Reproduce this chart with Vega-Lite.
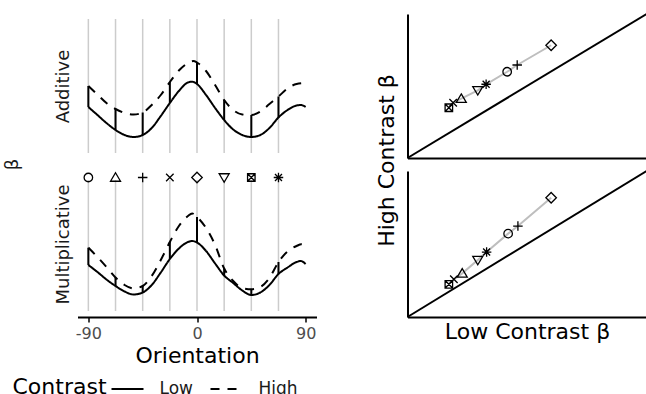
{
  "$schema": "https://vega.github.io/schema/vega-lite/v6.json",
  "padding": {"left": 2.5, "top": 10, "right": 0, "bottom": 0},
  "background": "white",
  "config": {
    "font": "DejaVu Sans",
    "view": {"stroke": null},
    "axis": {"grid": false, "titleFontWeight": "normal"},
    "legend": {"padding": 0}
  },
  "datasets": {
    "curves": [
      {"panel":"Additive","contrast":"Low","ori":-90,"beta":51},{"panel":"Additive","contrast":"Low","ori":-82.5,"beta":43},{"panel":"Additive","contrast":"Low","ori":-75,"beta":35},{"panel":"Additive","contrast":"Low","ori":-67.5,"beta":28},{"panel":"Additive","contrast":"Low","ori":-60,"beta":23},{"panel":"Additive","contrast":"Low","ori":-52.5,"beta":21},{"panel":"Additive","contrast":"Low","ori":-45,"beta":23},{"panel":"Additive","contrast":"Low","ori":-37.5,"beta":30},{"panel":"Additive","contrast":"Low","ori":-30,"beta":42},{"panel":"Additive","contrast":"Low","ori":-22.5,"beta":55},{"panel":"Additive","contrast":"Low","ori":-15,"beta":67},{"panel":"Additive","contrast":"Low","ori":-7.5,"beta":75.5},{"panel":"Additive","contrast":"Low","ori":-4,"beta":76.3},{"panel":"Additive","contrast":"Low","ori":0,"beta":74},{"panel":"Additive","contrast":"Low","ori":7.5,"beta":63},{"panel":"Additive","contrast":"Low","ori":15,"beta":50},{"panel":"Additive","contrast":"Low","ori":22.5,"beta":38},{"panel":"Additive","contrast":"Low","ori":30,"beta":28.5},{"panel":"Additive","contrast":"Low","ori":37.5,"beta":23},{"panel":"Additive","contrast":"Low","ori":45,"beta":21},{"panel":"Additive","contrast":"Low","ori":52.5,"beta":23},{"panel":"Additive","contrast":"Low","ori":60,"beta":30},{"panel":"Additive","contrast":"Low","ori":67.5,"beta":40.5},{"panel":"Additive","contrast":"Low","ori":75,"beta":48},{"panel":"Additive","contrast":"Low","ori":82.5,"beta":52.5},{"panel":"Additive","contrast":"Low","ori":86,"beta":53},{"panel":"Additive","contrast":"Low","ori":90,"beta":51},
      {"panel":"Additive","contrast":"High","ori":-90,"beta":72},{"panel":"Additive","contrast":"High","ori":-82.5,"beta":63.5},{"panel":"Additive","contrast":"High","ori":-75,"beta":55},{"panel":"Additive","contrast":"High","ori":-67.5,"beta":49},{"panel":"Additive","contrast":"High","ori":-60,"beta":45},{"panel":"Additive","contrast":"High","ori":-52.5,"beta":43.5},{"panel":"Additive","contrast":"High","ori":-45,"beta":45.5},{"panel":"Additive","contrast":"High","ori":-37.5,"beta":53},{"panel":"Additive","contrast":"High","ori":-30,"beta":63},{"panel":"Additive","contrast":"High","ori":-22.5,"beta":76},{"panel":"Additive","contrast":"High","ori":-15,"beta":87.5},{"panel":"Additive","contrast":"High","ori":-7.5,"beta":95},{"panel":"Additive","contrast":"High","ori":-3,"beta":97},{"panel":"Additive","contrast":"High","ori":0,"beta":95.5},{"panel":"Additive","contrast":"High","ori":7.5,"beta":87},{"panel":"Additive","contrast":"High","ori":15,"beta":73},{"panel":"Additive","contrast":"High","ori":22.5,"beta":58},{"panel":"Additive","contrast":"High","ori":30,"beta":48},{"panel":"Additive","contrast":"High","ori":37.5,"beta":43.5},{"panel":"Additive","contrast":"High","ori":45,"beta":43},{"panel":"Additive","contrast":"High","ori":52.5,"beta":46.5},{"panel":"Additive","contrast":"High","ori":60,"beta":54},{"panel":"Additive","contrast":"High","ori":67.5,"beta":61.5},{"panel":"Additive","contrast":"High","ori":75,"beta":69.5},{"panel":"Additive","contrast":"High","ori":82.5,"beta":74},{"panel":"Additive","contrast":"High","ori":90,"beta":75},
      {"panel":"Multiplicative","contrast":"Low","ori":-90,"beta":52},{"panel":"Multiplicative","contrast":"Low","ori":-82.5,"beta":45},{"panel":"Multiplicative","contrast":"Low","ori":-75,"beta":37.5},{"panel":"Multiplicative","contrast":"Low","ori":-67.5,"beta":31},{"panel":"Multiplicative","contrast":"Low","ori":-60,"beta":25.5},{"panel":"Multiplicative","contrast":"Low","ori":-52.5,"beta":22.5},{"panel":"Multiplicative","contrast":"Low","ori":-45,"beta":24.5},{"panel":"Multiplicative","contrast":"Low","ori":-37.5,"beta":32},{"panel":"Multiplicative","contrast":"Low","ori":-30,"beta":44.5},{"panel":"Multiplicative","contrast":"Low","ori":-22.5,"beta":58},{"panel":"Multiplicative","contrast":"Low","ori":-15,"beta":68.5},{"panel":"Multiplicative","contrast":"Low","ori":-7.5,"beta":75},{"panel":"Multiplicative","contrast":"Low","ori":-4,"beta":76},{"panel":"Multiplicative","contrast":"Low","ori":0,"beta":74.5},{"panel":"Multiplicative","contrast":"Low","ori":7.5,"beta":66},{"panel":"Multiplicative","contrast":"Low","ori":15,"beta":53.5},{"panel":"Multiplicative","contrast":"Low","ori":22.5,"beta":41.5},{"panel":"Multiplicative","contrast":"Low","ori":30,"beta":34},{"panel":"Multiplicative","contrast":"Low","ori":37.5,"beta":26.5},{"panel":"Multiplicative","contrast":"Low","ori":45,"beta":22},{"panel":"Multiplicative","contrast":"Low","ori":52.5,"beta":24.5},{"panel":"Multiplicative","contrast":"Low","ori":60,"beta":32},{"panel":"Multiplicative","contrast":"Low","ori":67.5,"beta":43},{"panel":"Multiplicative","contrast":"Low","ori":75,"beta":49.5},{"panel":"Multiplicative","contrast":"Low","ori":82.5,"beta":55},{"panel":"Multiplicative","contrast":"Low","ori":86,"beta":56},{"panel":"Multiplicative","contrast":"Low","ori":90,"beta":53},
      {"panel":"Multiplicative","contrast":"High","ori":-90,"beta":69.3},{"panel":"Multiplicative","contrast":"High","ori":-82.5,"beta":60},{"panel":"Multiplicative","contrast":"High","ori":-75,"beta":50},{"panel":"Multiplicative","contrast":"High","ori":-67.5,"beta":39.5},{"panel":"Multiplicative","contrast":"High","ori":-60,"beta":32},{"panel":"Multiplicative","contrast":"High","ori":-52.5,"beta":28.5},{"panel":"Multiplicative","contrast":"High","ori":-45,"beta":31},{"panel":"Multiplicative","contrast":"High","ori":-37.5,"beta":41},{"panel":"Multiplicative","contrast":"High","ori":-30,"beta":57},{"panel":"Multiplicative","contrast":"High","ori":-22.5,"beta":75},{"panel":"Multiplicative","contrast":"High","ori":-15,"beta":91},{"panel":"Multiplicative","contrast":"High","ori":-7.5,"beta":101},{"panel":"Multiplicative","contrast":"High","ori":-4,"beta":103.5},{"panel":"Multiplicative","contrast":"High","ori":0,"beta":100},{"panel":"Multiplicative","contrast":"High","ori":7.5,"beta":89},{"panel":"Multiplicative","contrast":"High","ori":15,"beta":72},{"panel":"Multiplicative","contrast":"High","ori":22.5,"beta":48.5},{"panel":"Multiplicative","contrast":"High","ori":30,"beta":36},{"panel":"Multiplicative","contrast":"High","ori":37.5,"beta":29},{"panel":"Multiplicative","contrast":"High","ori":45,"beta":27.7},{"panel":"Multiplicative","contrast":"High","ori":52.5,"beta":30},{"panel":"Multiplicative","contrast":"High","ori":60,"beta":39},{"panel":"Multiplicative","contrast":"High","ori":67.5,"beta":55},{"panel":"Multiplicative","contrast":"High","ori":75,"beta":65.5},{"panel":"Multiplicative","contrast":"High","ori":82.5,"beta":71},{"panel":"Multiplicative","contrast":"High","ori":86.5,"beta":72.7},{"panel":"Multiplicative","contrast":"High","ori":90,"beta":71}
    ],
    "nodes": [
      {"panel":"Additive","ori":-90,"sym":"circle","low":51,"high":72},
      {"panel":"Additive","ori":-67.5,"sym":"triangle","low":28,"high":49},
      {"panel":"Additive","ori":-45,"sym":"plus","low":23,"high":45.5},
      {"panel":"Additive","ori":-22.5,"sym":"x","low":55,"high":76},
      {"panel":"Additive","ori":0,"sym":"diamond","low":74,"high":95.5},
      {"panel":"Additive","ori":22.5,"sym":"tridown","low":38,"high":58},
      {"panel":"Additive","ori":45,"sym":"squarex","low":21,"high":43},
      {"panel":"Additive","ori":67.5,"sym":"asterisk","low":40.5,"high":61.5},
      {"panel":"Multiplicative","ori":-90,"sym":"circle","low":52,"high":69.3},
      {"panel":"Multiplicative","ori":-67.5,"sym":"triangle","low":31,"high":39.5},
      {"panel":"Multiplicative","ori":-45,"sym":"plus","low":24.5,"high":31},
      {"panel":"Multiplicative","ori":-22.5,"sym":"x","low":58,"high":75},
      {"panel":"Multiplicative","ori":0,"sym":"diamond","low":74.5,"high":100},
      {"panel":"Multiplicative","ori":22.5,"sym":"tridown","low":41.5,"high":48.5},
      {"panel":"Multiplicative","ori":45,"sym":"squarex","low":22,"high":27.7},
      {"panel":"Multiplicative","ori":67.5,"sym":"asterisk","low":43,"high":55}
    ],
    "scatter": [
      {"panel":"top","sym":"squarex","low":0.173,"high":0.349},
      {"panel":"top","sym":"x","low":0.191,"high":0.384},
      {"panel":"top","sym":"triangle","low":0.225,"high":0.412},
      {"panel":"top","sym":"tridown","low":0.294,"high":0.47},
      {"panel":"top","sym":"asterisk","low":0.329,"high":0.512},
      {"panel":"top","sym":"circle","low":0.417,"high":0.599},
      {"panel":"top","sym":"plus","low":0.459,"high":0.646},
      {"panel":"top","sym":"diamond","low":0.601,"high":0.783},
      {"panel":"bottom","sym":"squarex","low":0.173,"high":0.224},
      {"panel":"bottom","sym":"x","low":0.194,"high":0.258},
      {"panel":"bottom","sym":"triangle","low":0.229,"high":0.299},
      {"panel":"bottom","sym":"tridown","low":0.294,"high":0.39},
      {"panel":"bottom","sym":"asterisk","low":0.331,"high":0.445},
      {"panel":"bottom","sym":"circle","low":0.421,"high":0.571},
      {"panel":"bottom","sym":"plus","low":0.462,"high":0.623},
      {"panel":"bottom","sym":"diamond","low":0.601,"high":0.817}
    ],
    "diag": [{"low":0,"high":0},{"low":1,"high":1}]
  },
  "columns": 2,
  "bounds": "flush",
  "spacing": {"row": 13, "column": 91},
  "resolve": {"scale": {"x": "independent", "y": "independent"}},
  "concat": [
    {
      "width": 239, "height": 144,
      "layer": [
        {
          "data": {"name": "nodes"},
          "transform": [{"filter": "datum.panel === 'Additive'"}],
          "mark": {"type": "rule", "color": "#cccccc", "strokeWidth": 1.5},
          "encoding": {
            "x": {"field": "ori", "type": "quantitative", "scale": {"domain": [-99, 99], "nice": false},
                  "axis": {"orient": "top", "domain": false, "ticks": false, "labels": false, "title": "β", "titleFontSize": 18, "titleColor": "#1a1a1a", "titleX": -60.5, "titleY": 150, "titleBaseline": "alphabetic", "titleAngle": -90, "titleAlign": "center"}},
            "y": {"datum": 5, "type": "quantitative", "scale": {"domain": [0, 144], "nice": false},
                  "axis": {"orient": "left", "domain": false, "ticks": false, "labels": false, "title": "Additive", "titleFontSize": 18, "titleColor": "#1a1a1a", "titleX": -9, "titleY": 72, "titleBaseline": "alphabetic", "titleAngle": -90, "titleAlign": "center"}},
            "y2": {"datum": 139}
          }
        },
        {
          "data": {"name": "curves"},
          "transform": [{"filter": "datum.panel === 'Additive'"}],
          "mark": {"type": "line", "color": "black", "strokeWidth": 2, "interpolate": "monotone"},
          "encoding": {
            "x": {"field": "ori", "type": "quantitative"},
            "y": {"field": "beta", "type": "quantitative"},
            "strokeDash": {"field": "contrast", "type": "nominal", "scale": {"domain": ["Low", "High"], "range": [[1, 0], [9, 8]]},
              "legend": {"title": "Contrast", "orient": "none", "legendX": -65, "legendY": 358, "direction": "horizontal", "titleOrient": "left", "titleFontSize": 22, "titleFontWeight": "normal", "titleColor": "black", "titlePadding": 3, "titleAnchor": "start", "titleBaseline": "line-top", "titleLineHeight": 32, "labelFontSize": 17, "labelColor": "#1a1a1a", "labelOffset": 15, "columnPadding": 13, "symbolSize": 1024, "symbolStrokeWidth": 2, "symbolStrokeColor": "black", "symbolType": "stroke"}}
          }
        },
        {
          "data": {"name": "nodes"},
          "transform": [{"filter": "datum.panel === 'Additive'"}],
          "mark": {"type": "rule", "color": "black", "strokeWidth": 2},
          "encoding": {
            "x": {"field": "ori", "type": "quantitative"},
            "y": {"field": "low", "type": "quantitative"},
            "y2": {"field": "high"}
          }
        }
      ]
    },
    {
      "width": 239, "height": 144,
      "layer": [
        {
          "data": {"name": "diag"},
          "mark": {"type": "line", "color": "black", "strokeWidth": 2},
          "encoding": {
            "x": {"field": "low", "type": "quantitative", "scale": {"domain": [0, 1], "nice": false},
                  "axis": {"domainColor": "black", "domainWidth": 2, "ticks": false, "labels": false, "title": null}},
            "y": {"field": "high", "type": "quantitative", "scale": {"domain": [0, 1], "nice": false},
                  "axis": {"domainColor": "black", "domainWidth": 2, "ticks": false, "labels": false, "title": "High Contrast β", "titleFontSize": 22, "titleColor": "black", "titleX": -14, "titleY": 146, "titleBaseline": "alphabetic", "titleAngle": -90, "titleAlign": "center"}}
          }
        },
        {
          "data": {"name": "scatter"},
          "transform": [{"filter": "datum.panel === 'top'"}],
          "mark": {"type": "line", "color": "#bebebe", "strokeWidth": 2},
          "encoding": {
            "x": {"field": "low", "type": "quantitative"},
            "y": {"field": "high", "type": "quantitative"}
          }
        },
        {
          "data": {"name": "scatter"},
          "transform": [{"filter": "datum.panel === 'top'"}],
          "mark": {"type": "point", "filled": false, "color": "black", "strokeWidth": 1.3, "size": 100, "opacity": 1},
          "encoding": {
            "x": {"field": "low", "type": "quantitative"},
            "y": {"field": "high", "type": "quantitative"},
            "shape": {"field": "sym", "type": "nominal", "legend": null,
              "scale": {"domain": ["circle", "triangle", "plus", "x", "diamond", "tridown", "squarex", "asterisk"],
                "range": ["M0.85,0A0.85,0.85,0,1,1,-0.85,0A0.85,0.85,0,1,1,0.85,0Z", "M0,-0.95L1,0.75L-1,0.75Z", "M-0.95,0H0.95M0,-0.95V0.95", "M-0.75,-0.75L0.75,0.75M-0.75,0.75L0.75,-0.75", "M0,-1.05L1.05,0L0,1.05L-1.05,0Z", "M-1,-0.75L1,-0.75L0,0.95Z", "M-0.75,-0.75H0.75V0.75H-0.75ZM-0.75,-0.75L0.75,0.75M-0.75,0.75L0.75,-0.75", "M-0.95,0H0.95M0,-0.95V0.95M-0.7,-0.7L0.7,0.7M-0.7,0.7L0.7,-0.7"]}}
          }
        }
      ]
    },
    {
      "width": 239, "height": 146,
      "layer": [
        {
          "data": {"name": "nodes"},
          "transform": [{"filter": "datum.panel === 'Multiplicative'"}],
          "mark": {"type": "rule", "color": "#cccccc", "strokeWidth": 1.5},
          "encoding": {
            "x": {"field": "ori", "type": "quantitative", "scale": {"domain": [-99, 99], "nice": false},
                  "axis": {"values": [-90, 0, 90], "labelExpr": "'' + datum.value", "title": "Orientation", "domainColor": "black", "domainWidth": 2, "tickColor": "black", "tickWidth": 1.5, "tickSize": 5, "labelFontSize": 16, "labelColor": "#4d4d4d", "labelPadding": 3, "labelFlush": false, "titleFontSize": 22, "titleColor": "black", "titlePadding": 4}},
            "y": {"datum": 6, "type": "quantitative", "scale": {"domain": [0, 146], "nice": false},
                  "axis": {"orient": "left", "domain": false, "ticks": false, "labels": false, "title": "Multiplicative", "titleFontSize": 18, "titleColor": "#1a1a1a", "titleX": -9, "titleY": 73, "titleBaseline": "alphabetic", "titleAngle": -90, "titleAlign": "center"}},
            "y2": {"datum": 137}
          }
        },
        {
          "data": {"name": "curves"},
          "transform": [{"filter": "datum.panel === 'Multiplicative'"}],
          "mark": {"type": "line", "color": "black", "strokeWidth": 2, "interpolate": "monotone"},
          "encoding": {
            "x": {"field": "ori", "type": "quantitative"},
            "y": {"field": "beta", "type": "quantitative"},
            "strokeDash": {"field": "contrast", "type": "nominal", "scale": {"domain": ["Low", "High"], "range": [[1, 0], [9, 8]]}}
          }
        },
        {
          "data": {"name": "nodes"},
          "transform": [{"filter": "datum.panel === 'Multiplicative'"}],
          "mark": {"type": "rule", "color": "black", "strokeWidth": 2},
          "encoding": {
            "x": {"field": "ori", "type": "quantitative"},
            "y": {"field": "low", "type": "quantitative"},
            "y2": {"field": "high"}
          }
        },
        {
          "data": {"name": "nodes"},
          "transform": [{"filter": "datum.panel === 'Multiplicative'"}],
          "mark": {"type": "point", "filled": false, "color": "black", "strokeWidth": 1.3, "size": 100, "opacity": 1},
          "encoding": {
            "x": {"field": "ori", "type": "quantitative"},
            "y": {"datum": 139.5, "type": "quantitative"},
            "shape": {"field": "sym", "type": "nominal", "legend": null}
          }
        }
      ]
    },
    {
      "width": 239, "height": 146,
      "layer": [
        {
          "data": {"name": "diag"},
          "mark": {"type": "line", "color": "black", "strokeWidth": 2},
          "encoding": {
            "x": {"field": "low", "type": "quantitative", "scale": {"domain": [0, 1], "nice": false},
                  "axis": {"domainColor": "black", "domainWidth": 2, "ticks": false, "labels": false, "title": "Low Contrast β", "titleFontSize": 22, "titleColor": "black", "titlePadding": 4}},
            "y": {"field": "high", "type": "quantitative", "scale": {"domain": [0, 1], "nice": false},
                  "axis": {"domainColor": "black", "domainWidth": 2, "ticks": false, "labels": false, "title": null}}
          }
        },
        {
          "data": {"name": "scatter"},
          "transform": [{"filter": "datum.panel === 'bottom'"}],
          "mark": {"type": "line", "color": "#bebebe", "strokeWidth": 2},
          "encoding": {
            "x": {"field": "low", "type": "quantitative"},
            "y": {"field": "high", "type": "quantitative"}
          }
        },
        {
          "data": {"name": "scatter"},
          "transform": [{"filter": "datum.panel === 'bottom'"}],
          "mark": {"type": "point", "filled": false, "color": "black", "strokeWidth": 1.3, "size": 100, "opacity": 1},
          "encoding": {
            "x": {"field": "low", "type": "quantitative"},
            "y": {"field": "high", "type": "quantitative"},
            "shape": {"field": "sym", "type": "nominal", "legend": null}
          }
        }
      ]
    }
  ]
}
